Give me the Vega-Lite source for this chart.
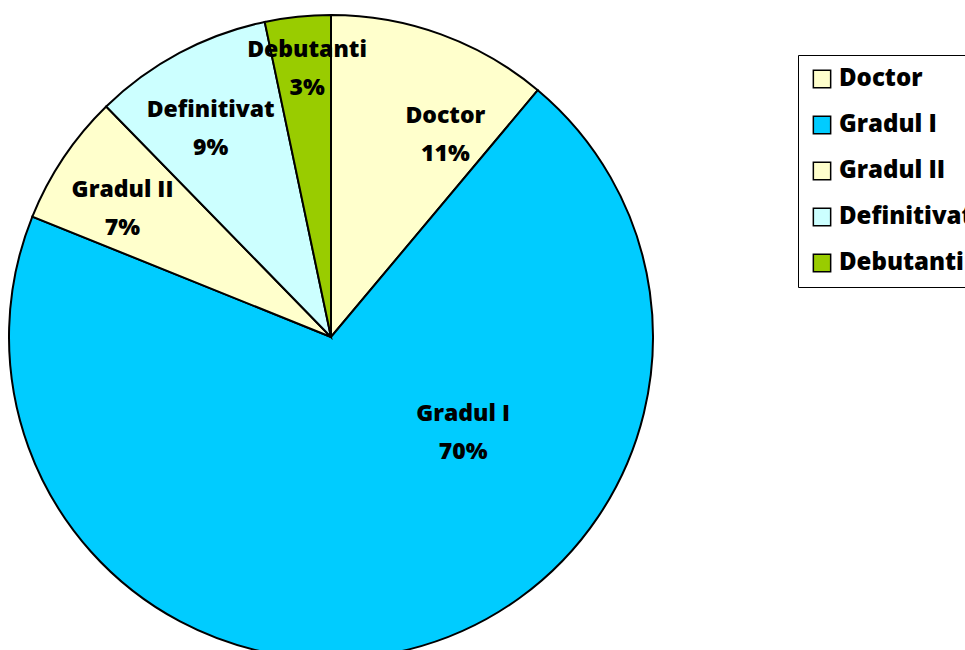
{
  "$schema": "https://vega.github.io/schema/vega-lite/v6.json",
  "width": 662,
  "height": 674,
  "padding": 0,
  "autosize": {"type": "pad"},
  "background": "white",
  "view": {"stroke": null},
  "data": {
    "values": [
      {"cat": "Doctor", "ord": 1, "value": 11.1, "label": "Doctor\n11%"},
      {"cat": "Gradul I", "ord": 2, "value": 70.0, "label": "Gradul I\n70%"},
      {"cat": "Gradul II", "ord": 3, "value": 6.6, "label": "Gradul II\n7%"},
      {"cat": "Definitivat", "ord": 4, "value": 9.0, "label": "Definitivat\n9%"},
      {"cat": "Debutanti", "ord": 5, "value": 3.3, "label": "Debutanti\n3%"}
    ]
  },
  "encoding": {
    "theta": {"field": "value", "type": "quantitative", "stack": true},
    "order": {"field": "ord", "type": "quantitative"}
  },
  "layer": [
    {
      "mark": {"type": "arc", "radius": 322, "stroke": "black", "strokeWidth": 2},
      "encoding": {
        "color": {
          "field": "cat",
          "type": "nominal",
          "sort": ["Doctor", "Gradul I", "Gradul II", "Definitivat", "Debutanti"],
          "scale": {
            "domain": ["Doctor", "Gradul I", "Gradul II", "Definitivat", "Debutanti"],
            "range": ["#FFFFCC", "#00CCFF", "#FFFFCC", "#CCFFFF", "#99CC00"]
          },
          "legend": {
            "title": null,
            "orient": "none",
            "legendX": 798,
            "legendY": 55,
            "symbolType": "square",
            "symbolSize": 300,
            "symbolStrokeColor": "black",
            "symbolStrokeWidth": 1.5,
            "symbolOpacity": 1,
            "labelFont": "Open Sans",
            "labelFontSize": 24,
            "labelFontWeight": 800,
            "labelColor": "black",
            "labelLimit": 300,
            "labelOffset": 5,
            "rowPadding": 22,
            "strokeColor": "black",
            "fillColor": "white",
            "padding": 12
          }
        }
      }
    },
    {
      "mark": {"type": "text", "radius": 245, "dx": -5, "dy": -11, "font": "Open Sans", "fontSize": 23, "fontWeight": 800, "lineBreak": "\n", "lineHeight": 38, "color": "black"},
      "encoding": {
        "text": {"condition": {"test": "datum.cat === 'Gradul II' || datum.cat === 'Definitivat'", "field": "label"}, "value": ""}
      }
    },
    {
      "mark": {"type": "text", "radius": 270, "dx": 4, "dy": -18, "font": "Open Sans", "fontSize": 23, "fontWeight": 800, "lineBreak": "\n", "lineHeight": 38, "color": "black"},
      "encoding": {
        "text": {"condition": {"test": "datum.cat === 'Debutanti'", "field": "label"}, "value": ""}
      }
    },
    {
      "mark": {"type": "text", "radius": 250, "dx": 29, "dy": 14, "font": "Open Sans", "fontSize": 23, "fontWeight": 800, "lineBreak": "\n", "lineHeight": 38, "color": "black"},
      "encoding": {
        "text": {"condition": {"test": "datum.cat === 'Doctor'", "field": "label"}, "value": ""}
      }
    },
    {
      "mark": {"type": "text", "radius": 161, "dx": 93, "dy": -79, "font": "Open Sans", "fontSize": 23, "fontWeight": 800, "lineBreak": "\n", "lineHeight": 38, "color": "black"},
      "encoding": {
        "text": {"condition": {"test": "datum.cat === 'Gradul I'", "field": "label"}, "value": ""}
      }
    }
  ]
}
